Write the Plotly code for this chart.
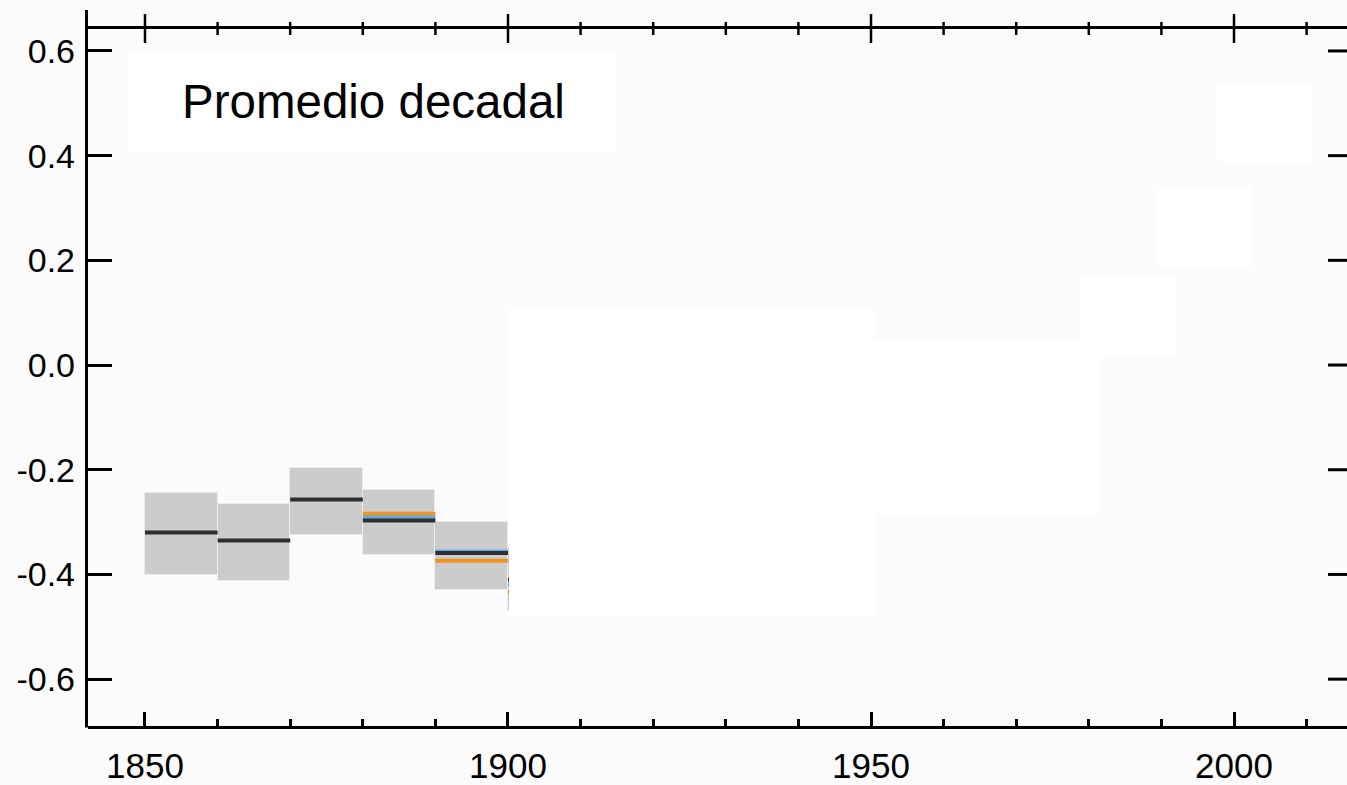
import plotly.graph_objects as go

# ---------------- data ----------------
decades = [1850, 1860, 1870, 1880, 1890, 1900]
unc_low = [-0.402, -0.412, -0.325, -0.362, -0.429, -0.470]
unc_high = [-0.244, -0.265, -0.197, -0.238, -0.300, -0.350]
hadcrut = [-0.320, -0.335, -0.257, -0.297, -0.359, -0.410]   # black
mlost = [None, None, None, -0.284, -0.374, -0.434]            # orange
giss = [None, None, None, -0.291, -0.356, -0.420]             # blue

# extents of the blanked-out (hidden) later decades
hidden_x0 = [1900.14, 1950.41, 1978.93, 1989.39, 1997.66]
hidden_x1 = [1950.41, 1981.68, 1992.15, 2002.48, 2010.74]
hidden_lo = [-0.480, -0.284, 0.017, 0.187, 0.389]
hidden_hi = [0.109, 0.051, 0.170, 0.339, 0.539]

x_ticks = [1850, 1900, 1950, 2000]
x_minor = list(range(1850, 2020, 10))
y_ticks = [-0.6, -0.4, -0.2, 0.0, 0.2, 0.4, 0.6]
y_ticktext = ["-0.6", "-0.4", "-0.2", "0.0", "0.2", "0.4", "0.6"]
title_text = "Promedio decadal"

# ---------------- figure ----------------
W, H = 1347, 785
L, R, T, B = 88, 0, 29, 57
PW, PH = W - L - R, H - T - B

BG = "#fbfbfb"
fig = go.Figure()

# uncertainty boxes
fig.add_trace(go.Bar(
    x=[d + 5 for d in decades],
    y=[h - l for h, l in zip(unc_high, unc_low)],
    base=unc_low,
    width=10,
    marker=dict(color="#cdcccd", line=dict(color="#ececec", width=1)),
    hoverinfo="skip", showlegend=False,
))


def seg(vals):
    xs, ys = [], []
    for d, v in zip(decades, vals):
        if v is None:
            continue
        xs += [d, d + 10, None]
        ys += [v, v, None]
    return xs, ys


for vals, col in [(mlost, "#f29422"), (giss, "#62a8e2"), (hadcrut, "#2f2f2f")]:
    xs, ys = seg(vals)
    fig.add_trace(go.Scatter(x=xs, y=ys, mode="lines",
                             line=dict(color=col, width=4),
                             hoverinfo="skip", showlegend=False))

shapes = []
# blanked regions
for x0, x1, lo, hi in zip(hidden_x0, hidden_x1, hidden_lo, hidden_hi):
    shapes.append(dict(type="rect", xref="x", yref="y", x0=x0, x1=x1, y0=lo, y1=hi,
                       fillcolor="#ffffff", line=dict(width=0), layer="above"))
# white label box (pixels 128..616, 52..153)
shapes.append(dict(type="rect", xref="paper", yref="paper",
                   x0=(128 - L) / PW, x1=(616 - L) / PW,
                   y0=(H - B - 153) / PH, y1=(H - B - 52) / PH,
                   fillcolor="#ffffff", line=dict(width=0), layer="above"))

# left axis line (extends a little above the top axis)
shapes.append(dict(type="line", xref="paper", yref="paper", x0=-1.5 / PW, x1=-1.5 / PW,
                   y0=-1.5 / PH, y1=1 + 19 / PH, line=dict(color="black", width=3)))
# top axis crossing ticks
for xv in x_minor:
    if xv in x_ticks:
        up, dn, w = 15, 14, 2.5
    else:
        up, dn, w = 7, 6, 2.5
    shapes.append(dict(type="line", xref="x", yref="paper", x0=xv, x1=xv,
                       y0=1 - dn / PH, y1=1 + up / PH, line=dict(color="black", width=w)))
# right axis ticks (axis itself just off-screen)
for yv in y_ticks:
    shapes.append(dict(type="line", xref="paper", yref="y", x0=1 - 19 / PW, x1=1 + 5 / PW,
                       y0=yv, y1=yv, line=dict(color="black", width=3)))

fig.update_layout(
    width=W, height=H, autosize=False,
    margin=dict(l=L, r=R, t=T, b=B, pad=0),
    paper_bgcolor=BG, plot_bgcolor=BG,
    bargap=0, barmode="overlay",
    shapes=shapes,
    font=dict(family="Liberation Sans, Arial, Helvetica, sans-serif", color="black"),
    annotations=[dict(text=title_text, xref="paper", yref="paper",
                      x=(180 - L) / PW, y=(H - B - 102) / PH,
                      xanchor="left", yanchor="middle", showarrow=False,
                      font=dict(size=47.5, color="black"))],
)

fig.update_xaxes(range=[1842.15, 2015.565], showgrid=False, zeroline=False,
                 showline=True, linewidth=3, linecolor="black", mirror=True,
                 ticks="inside", ticklen=14, tickwidth=2.5, tickcolor="black",
                 tickvals=x_ticks, ticktext=[str(v) for v in x_ticks],
                 tickfont=dict(size=35), ticklabelstandoff=7,
                 minor=dict(tickvals=[v for v in x_minor if v not in x_ticks],
                            ticks="inside", ticklen=7, tickwidth=2.5, tickcolor="black"))
fig.update_yaxes(range=[-0.6895, 0.6419], showgrid=False, zeroline=False,
                 showline=False,
                 ticks="inside", ticklen=24, tickwidth=3, tickcolor="black",
                 tickvals=y_ticks, ticktext=y_ticktext,
                 tickfont=dict(size=34), ticklabelstandoff=12)

fig.write_html("out.html")
